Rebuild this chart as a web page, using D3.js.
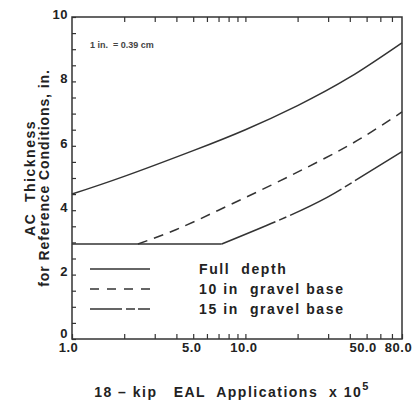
<!DOCTYPE html>
<html>
<head>
<meta charset="utf-8">
<script src="https://cdn.jsdelivr.net/npm/d3@7"></script>
<style>
  body { margin: 0; background: #fff; }
  svg { display: block; font-family: "Liberation Sans", Arial, sans-serif; }
  text { white-space: pre; }
</style>
</head>
<body>
<div id="chart"></div>
<script>
// values (x = EAL applications x 10^5, y = AC thickness in.)
const fullDepth = [[1, 4.5], [2, 5.05], [5, 5.85], [10, 6.5], [20, 7.25], [40, 8.13], [80, 9.2]];
const flatPart = [[1, 2.95], [7.3, 2.95]];
const gravel10 = [[2.4, 2.95], [4, 3.4], [7, 4.0], [14, 4.77], [27, 5.54], [46, 6.22], [80, 7.05]];
const gravel15 = [[7.3, 2.95], [17.4, 3.8], [29.6, 4.4], [41.8, 4.88], [80, 5.82]];

const xTicks = [1, 2, 3, 4, 5, 6, 7, 8, 9, 10, 20, 30, 40, 50, 60, 70, 80];
const xLabels = [1, 5, 10, 50, 80];
const yTicks = d3.range(0, 10.01, 0.5);
const yLabels = [0, 2, 4, 6, 8, 10];

const legendItems = ["Full  depth", "10 in  gravel base", "15 in  gravel base"];

const width = 418, height = 404;
const margin = {top: 17, right: 16, bottom: 65, left: 72};
const ink = "#222", lineInk = "#333";

const svg = d3.select("#chart").append("svg")
	.attr("width", width)
	.attr("height", height);

const x = d3.scaleLog().domain([1, 80]).range([margin.left, width - margin.right]);
const y = d3.scaleLinear().domain([0, 10]).range([height - margin.bottom, margin.top]);

// axes (ticks point inward)
const gx = svg.append("g")
	.attr("transform", `translate(0,${y(0)})`)
	.call(d3.axisBottom(x)
		.tickValues(xTicks)
		.tickSizeInner(-5)
		.tickSizeOuter(0)
		.tickPadding(4)
		.tickFormat(d => xLabels.includes(d) ? d.toFixed(1) : ""));

const gxTop = svg.append("g")
	.attr("transform", `translate(0,${y(10)})`)
	.call(d3.axisTop(x)
		.tickValues(xTicks.filter(d => d > 1 && d < 80))
		.tickSizeInner(-5)
		.tickSizeOuter(0)
		.tickFormat(""));

const gy = svg.append("g")
	.attr("transform", `translate(${x(1)},0)`)
	.call(d3.axisLeft(y)
		.tickValues(yTicks)
		.tickSizeInner(-4)
		.tickSizeOuter(0)
		.tickPadding(4)
		.tickFormat(d => yLabels.includes(d) ? d : ""));

for (let g of [gx, gxTop, gy]) {
	g.select(".domain").remove();
	g.selectAll(".tick line").attr("stroke", lineInk).attr("stroke-width", 1.2);
	g.selectAll(".tick text")
		.attr("fill", ink)
		.attr("font-size", 13)
		.attr("font-weight", "bold")
		.attr("letter-spacing", "0.5px");
}
gy.selectAll(".tick text").attr("dy", d => d == 0 ? "-0.15em" : "0.1em");
gx.selectAll(".tick text").attr("dx", d => d == 1 ? -4 : d >= 50 ? -4 : -2);

// frame
svg.append("rect")
	.attr("x", x(1))
	.attr("y", y(10))
	.attr("width", x(80) - x(1))
	.attr("height", y(0) - y(10))
	.attr("fill", "none")
	.attr("stroke", lineInk)
	.attr("stroke-width", 1.5);

// curves
const line = d3.line()
	.x(d => x(d[0]))
	.y(d => y(d[1]))
	.curve(d3.curveNatural);

const series = [
	{data: fullDepth, dash: null},
	{data: flatPart, dash: null},
	{data: gravel10, dash: "10,7"},
	{data: gravel15, dash: "58,4,8,4"}
];

svg.selectAll("path.curve")
	.data(series)
	.join("path")
	.attr("class", "curve")
	.attr("d", d => line(d.data))
	.attr("fill", "none")
	.attr("stroke", lineInk)
	.attr("stroke-width", 1.5)
	.attr("stroke-dasharray", d => d.dash);

// legend
const legendDash = [null, "9,8", "32,4,9,3,12"];
const legend = svg.append("g");
legendItems.forEach((label, i) => {
	let ly = 269 + i * 20;
	legend.append("line")
		.attr("x1", 90).attr("x2", 150)
		.attr("y1", ly).attr("y2", ly)
		.attr("stroke", lineInk)
		.attr("stroke-width", 1.5)
		.attr("stroke-dasharray", legendDash[i]);
	legend.append("text")
		.attr("x", 199)
		.attr("y", ly + 5)
		.attr("font-size", 14)
		.attr("font-weight", "bold")
		.attr("letter-spacing", "1.6px")
		.attr("fill", ink)
		.text(label);
});

// conversion note
svg.append("text")
	.attr("x", 90)
	.attr("y", 48)
	.attr("font-size", 9)
	.attr("font-weight", "bold")
	.attr("fill", "#444")
	.text("1 in.  = 0.39 cm");

// axis titles
const yTitle = svg.append("g")
	.attr("transform", "translate(0,178) rotate(-90)");
yTitle.append("text")
	.attr("x", 0).attr("y", 35)
	.attr("text-anchor", "middle")
	.attr("font-size", 14)
	.attr("font-weight", "bold")
	.attr("letter-spacing", "1.5px")
	.attr("fill", ink)
	.text("AC  Thickness");
yTitle.append("text")
	.attr("x", 0).attr("y", 49)
	.attr("text-anchor", "middle")
	.attr("font-size", 14)
	.attr("font-weight", "bold")
	.attr("letter-spacing", "0.9px")
	.attr("fill", ink)
	.text("for Reference Conditions, in.");

const xTitle = svg.append("text")
	.attr("x", 232)
	.attr("y", 397)
	.attr("text-anchor", "middle")
	.attr("font-size", 14)
	.attr("font-weight", "bold")
	.attr("letter-spacing", "1.5px")
	.attr("fill", ink);
xTitle.append("tspan").text("18 – kip   EAL  Applications  x 10");
xTitle.append("tspan")
	.attr("dy", -7)
	.attr("font-size", 11)
	.text("5");
</script>
</body>
</html>
